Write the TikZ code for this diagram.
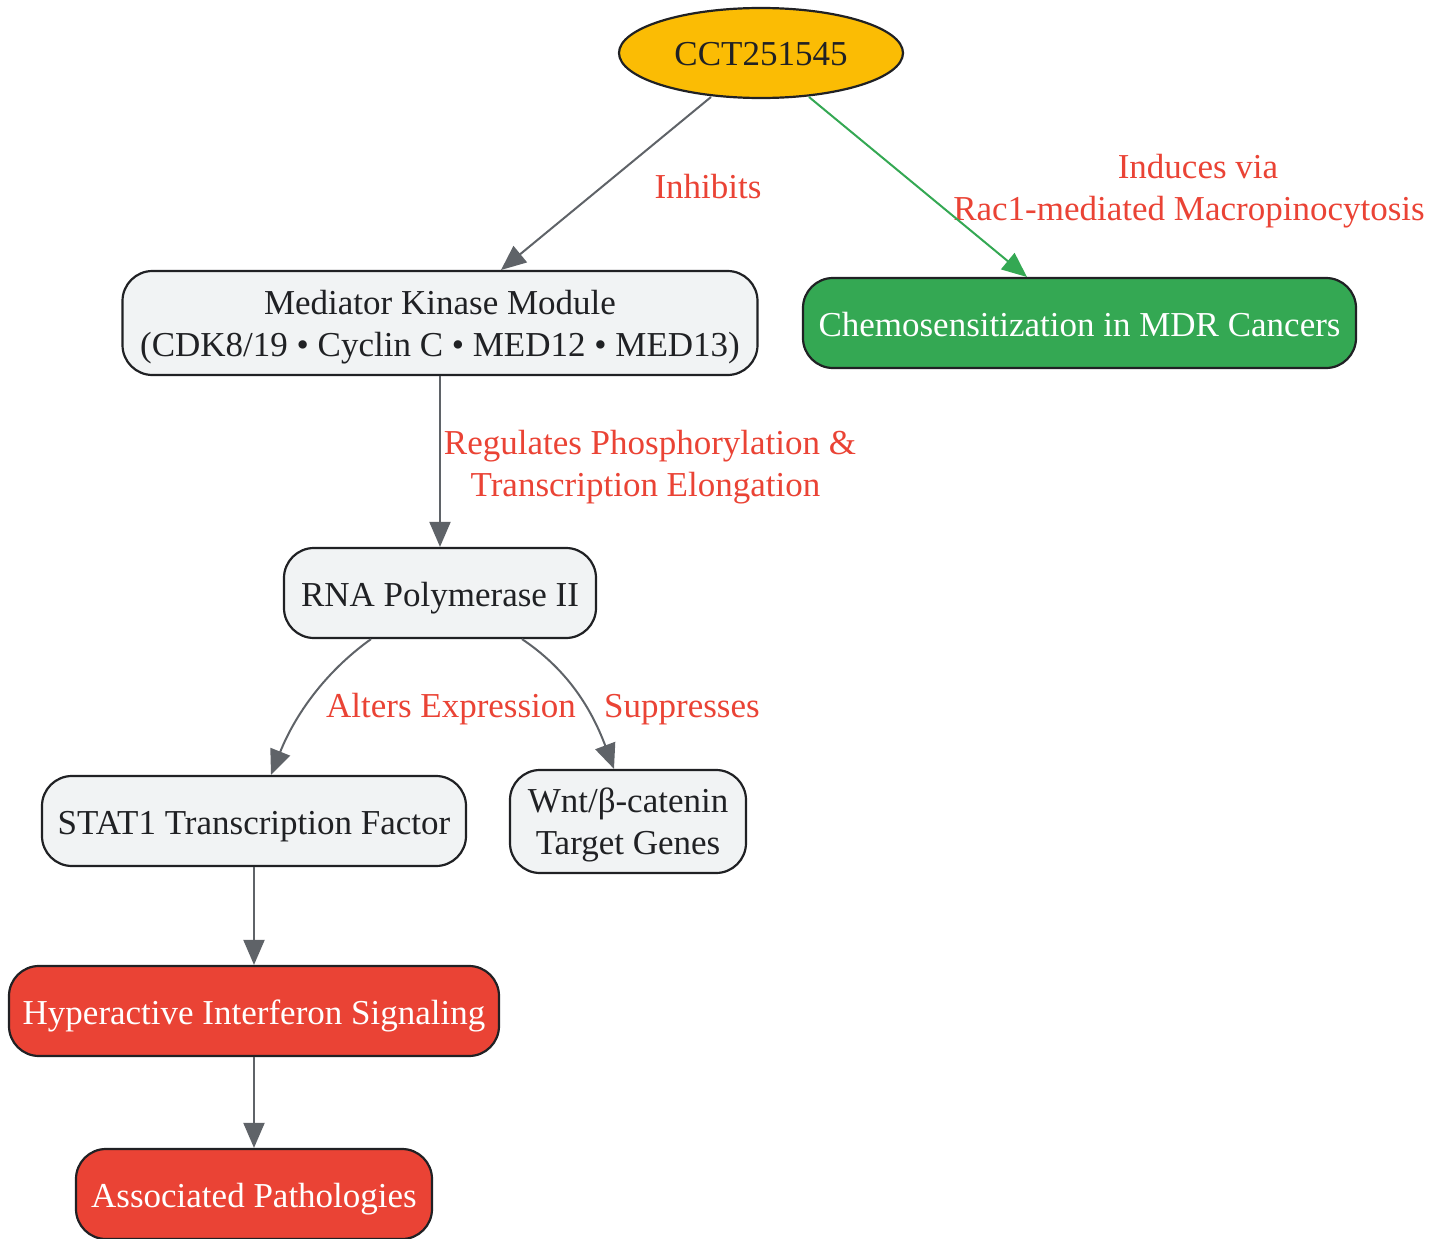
\documentclass[tikz,border=0pt]{standalone}
\usepackage{fontspec}
\setmainfont{Liberation Serif}
\usetikzlibrary{shapes.geometric,arrows.meta}
\definecolor{gold}{HTML}{FBBC04}
\definecolor{gfill}{HTML}{F1F3F4}
\definecolor{ink}{HTML}{202124}
\definecolor{edgegray}{HTML}{5F6368}
\definecolor{ggreen}{HTML}{34A853}
\definecolor{gred}{HTML}{EA4335}
\newcommand{\lnstrut}{\rule[-12pt]{0pt}{50pt}}
\newcommand{\bstrut}{\lnstrut}
\newcommand{\estrut}{\lnstrut}
\tikzset{
  txt/.style={align=center, inner sep=0pt, font=\fontsize{35}{42}\selectfont,
    execute at begin node=\bstrut, execute at end node=\estrut},
  multi/.code={\def\bstrut{}\def\estrut{}\tikzset{text depth=0pt}},
  base/.style={txt, draw=ink, line width=2.2pt},
  box/.style={base, rectangle, rounded corners=30pt, fill=gfill, text=ink},
  greenbox/.style={box, fill=ggreen, text=white},
  redbox/.style={box, fill=gred, text=white},
  oval/.style={base, ellipse, fill=gold, text=ink},
  lbl/.style={txt, text=gred},
  conn/.style={draw=edgegray, line width=2pt, -{Triangle[length=25pt,width=21pt]}},
  gconn/.style={conn, draw=ggreen, fill=ggreen},
}
\begin{document}
\begin{tikzpicture}[x=1pt,y=-1pt]
\useasboundingbox (0,0) rectangle (1444,1239);
\node[oval, minimum width=284pt, minimum height=90pt] (cct) at (761,53) {CCT251545};
\node[box, multi, minimum width=635pt, minimum height=104pt] (med) at (440,323) {Mediator Kinase Module\\(CDK8/19 • Cyclin C • MED12 • MED13)};
\node[greenbox, minimum width=553pt, minimum height=90pt] (chemo) at (1079.5,323) {Chemosensitization in MDR Cancers};
\node[box, minimum width=312pt, minimum height=90pt] (rna) at (440,593) {RNA Polymerase II};
\node[box, minimum width=424pt, minimum height=90pt] (stat) at (254,821) {STAT1 Transcription Factor};
\node[box, multi, minimum width=236pt, minimum height=103pt] (wnt) at (628,821.5) {Wnt/β-catenin\\Target Genes};
\node[redbox, minimum width=490pt, minimum height=90pt] (hyper) at (254,1011) {Hyperactive Interferon Signaling};
\node[redbox, minimum width=356pt, minimum height=90pt] (assoc) at (254,1194) {Associated Pathologies};

\node[lbl] (l1) at (708,185.5) {Inhibits};
\node[lbl, multi] (l2) at (1189,187) {\hspace*{18pt}Induces via\\Rac1-mediated Macropinocytosis};
\node[lbl, multi] (l3) at (650,463) {Regulates Phosphorylation \&\\Transcription Elongation\hspace*{9pt}};
\node[lbl] (l4) at (451,704.5) {Alters Expression};
\node[lbl] (l5) at (682,704.5) {Suppresses};

\coordinate (a1) at (711,97);
\coordinate (b1) at (501,270);
\coordinate (a2) at (809,97);
\coordinate (b2) at (1027,277);
\draw[conn] (a1) -- (b1);
\draw[gconn] (a2) -- (b2);
\draw[conn] (med.south) -- (rna.north);
\draw[conn] ([xshift=-69pt]rna.south) .. controls (325,672) and (295,715) .. ([xshift=17pt]stat.north);
\draw[conn] ([xshift=82pt]rna.south) .. controls (565,668) and (590,705) .. ([xshift=-14pt]wnt.north);
\draw[conn] (stat.south) -- (hyper.north);
\draw[conn] (hyper.south) -- (assoc.north);
\end{tikzpicture}
\end{document}
